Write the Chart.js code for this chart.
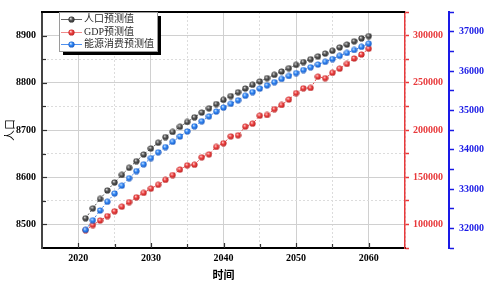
<!DOCTYPE html>
<html>
<head>
<meta charset="utf-8">
<script src="https://cdn.jsdelivr.net/npm/chart.js@4/dist/chart.umd.min.js"></script>
<style>
html, body { margin: 0; padding: 0; background: #fff; }
#wrap { width: 488px; height: 283px; }
</style>
</head>
<body>
<div id="wrap"><canvas id="forecastChart" width="488" height="283"></canvas></div>
<script>
var years = [2021, 2022, 2023, 2024, 2025, 2026, 2027, 2028, 2029, 2030,
    2031, 2032, 2033, 2034, 2035, 2036, 2037, 2038, 2039, 2040,
    2041, 2042, 2043, 2044, 2045, 2046, 2047, 2048, 2049, 2050,
    2051, 2052, 2053, 2054, 2055, 2056, 2057, 2058, 2059, 2060];

// 人口 (left axis)
var population = [8513, 8534, 8554, 8572, 8589, 8605, 8620, 8634, 8648, 8661,
    8673, 8685, 8696, 8707, 8717, 8727, 8737, 8746, 8755, 8764,
    8772, 8780, 8788, 8796, 8803, 8810, 8817, 8824, 8831, 8838,
    8844, 8850, 8856, 8862, 8868, 8875, 8881, 8888, 8894, 8899];

// GDP (red axis)
var gdp = [94000, 99300, 104100, 108800, 113900, 118800, 123600, 128700, 133400, 137900,
    142000, 147200, 152300, 158100, 162600, 163200, 171100, 174200, 182100, 186000,
    193300, 194400, 203600, 206700, 215200, 215900, 222100, 226500, 232300, 239100,
    244200, 244600, 256500, 254900, 260600, 265000, 270000, 275800, 280000, 286200];

// 能源消费 (blue axis)
var energy = [31961, 32207, 32454, 32676, 32888, 33085, 33275, 33455, 33628, 33786,
    33934, 34065, 34200, 34335, 34465, 34595, 34723, 34847, 34970, 35069,
    35167, 35256, 35372, 35463, 35552, 35636, 35717, 35799, 35873, 35947,
    36025, 36095, 36165, 36235, 36305, 36385, 36460, 36535, 36615, 36697];

var seriesLabels = ['人口预测值', 'GDP预测值', '能源消费预测值'];

var serif = '"Liberation Serif", "Times New Roman", "Noto Sans CJK SC", serif';
var redAxis = '#e8393b';
var blueAxis = '#1a1ae6';

function makeBall(light, mid, dark) {
    var c = document.createElement('canvas');
    c.width = 7; c.height = 7;
    var g = c.getContext('2d');
    var grad = g.createRadialGradient(2.6, 2.4, 0.2, 3.5, 3.5, 3.4);
    grad.addColorStop(0, light);
    grad.addColorStop(0.45, mid);
    grad.addColorStop(1, dark);
    g.fillStyle = grad;
    g.beginPath();
    g.arc(3.5, 3.5, 3.1, 0, Math.PI * 2);
    g.fill();
    return c;
}

var balls = [
    makeBall('#d8d8d8', '#555555', '#222222'),
    makeBall('#ffd0d0', '#ec4040', '#b01c1c'),
    makeBall('#cce4ff', '#3086f4', '#124eb6')
];

function toPoints(values) {
    let pts = [];
    values.forEach(function (v, i) {
        pts.push({ x: years[i], y: v });
    });
    return pts;
}

function isMinor(ctx, step) {
    return ctx.tick && ctx.tick.value % step !== 0;
}

var framePlugin = {
    id: 'frame',
    afterDraw: function (chart) {
        var ctx = chart.ctx, area = chart.chartArea;
        var xs = chart.scales.x, ys = chart.scales.y;
        ctx.save();
        ctx.strokeStyle = '#000';
        ctx.lineWidth = 2;
        ctx.beginPath();
        ctx.moveTo(area.left - 1, area.top);
        ctx.lineTo(area.right, area.top);
        ctx.stroke();

        // inward ticks on left and bottom axes
        ctx.lineWidth = 1.2;
        ctx.strokeStyle = '#333';
        xs.ticks.forEach(function (t) {
            var px = Math.round(xs.getPixelForValue(t.value)) + 0.5;
            if (px <= area.left + 2 || px >= area.right - 2) return;
            var len = t.value % 10 === 0 ? 5 : 4;
            ctx.beginPath();
            ctx.moveTo(px, area.bottom);
            ctx.lineTo(px, area.bottom - len);
            ctx.stroke();
        });
        ys.ticks.forEach(function (t) {
            var py = Math.round(ys.getPixelForValue(t.value)) + 0.5;
            if (py <= area.top + 2 || py >= area.bottom - 2) return;
            var len = t.value % 100 === 0 ? 5 : 4;
            ctx.beginPath();
            ctx.moveTo(area.left, py);
            ctx.lineTo(area.left + len, py);
            ctx.stroke();
        });

        // legend box with drop shadow
        var bx = 59, by = 12, bw = 98, bh = 39;
        ctx.fillStyle = '#000';
        ctx.fillRect(bx + 4, by + 4, bw, bh);
        ctx.fillStyle = '#fff';
        ctx.fillRect(bx, by, bw, bh);
        ctx.strokeStyle = '#9a9a9a';
        ctx.lineWidth = 1;
        ctx.strokeRect(bx + 0.5, by + 0.5, bw, bh);

        var lineColors = ['#666666', '#f08a8a', '#4f90ee'];
        chart.data.datasets.forEach(function (ds, i) {
            var cy = by + 7 + i * 12.6;
            ctx.strokeStyle = lineColors[i];
            ctx.lineWidth = 1;
            ctx.beginPath();
            ctx.moveTo(bx + 2, Math.round(cy) + 0.5);
            ctx.lineTo(bx + 23, Math.round(cy) + 0.5);
            ctx.stroke();
            ctx.drawImage(balls[i], bx + 9, Math.round(cy) - 3);
            ctx.fillStyle = '#2a2a2a';
            ctx.font = '10px ' + serif;
            ctx.textBaseline = 'middle';
            ctx.textAlign = 'left';
            ctx.fillText(ds.label, bx + 25, cy + 0.5);
        });
        ctx.restore();
    }
};

var chartElement = document.getElementById('forecastChart').getContext('2d');
var chartObject = new Chart(chartElement, {
    type: 'line',
    data: {
        datasets: [{
            label: seriesLabels[0],
            data: toPoints(population),
            yAxisID: 'y',
            order: 0,
            borderColor: '#5a5a5a',
            borderWidth: 1,
            borderDash: [2, 2],
            pointStyle: balls[0]
        }, {
            label: seriesLabels[1],
            data: toPoints(gdp),
            yAxisID: 'y1',
            order: 2,
            borderColor: '#e84a4a',
            borderWidth: 1,
            borderDash: [2, 2],
            pointStyle: balls[1]
        }, {
            label: seriesLabels[2],
            data: toPoints(energy),
            yAxisID: 'y2',
            order: 1,
            borderColor: '#3a84ee',
            borderWidth: 1,
            borderDash: [2, 2],
            pointStyle: balls[2]
        }]
    },
    options: {
        responsive: false,
        animation: false,
        devicePixelRatio: 1,
        layout: { padding: { top: 4, left: 0, right: 0, bottom: 0 } },
        plugins: {
            legend: { display: false },
            tooltip: { enabled: false }
        },
        scales: {
            x: {
                type: 'linear',
                min: 2015,
                max: 2065,
                afterFit: function (scale) { scale.height = 35; },
                ticks: {
                    stepSize: 5,
                    autoSkip: false,
                    maxRotation: 0,
                    padding: 4,
                    color: '#000',
                    font: { family: serif, size: 10, weight: 'bold' },
                    callback: function (v) { return v % 10 === 0 ? String(v) : ''; }
                },
                grid: {
                    drawTicks: false,
                    color: function (ctx) { return isMinor(ctx, 10) ? '#dcdcdc' : '#d0d0d0'; }
                },
                border: {
                    color: '#000',
                    width: 2,
                    dash: function (ctx) { return isMinor(ctx, 10) ? [2, 2] : []; }
                },
                title: {
                    display: true,
                    text: '时间',
                    color: '#000',
                    padding: { top: 0, bottom: 0 },
                    font: { family: serif, size: 11, weight: 'bold' }
                }
            },
            y: {
                position: 'left',
                min: 8450,
                max: 8950,
                afterFit: function (scale) { scale.width = 42; },
                ticks: {
                    stepSize: 50,
                    autoSkip: false,
                    padding: 6,
                    color: '#000',
                    font: { family: serif, size: 10, weight: 'bold' },
                    callback: function (v) { return v % 100 === 0 ? String(v) : ''; }
                },
                grid: {
                    drawTicks: false,
                    color: function (ctx) { return isMinor(ctx, 100) ? '#dcdcdc' : '#d0d0d0'; }
                },
                border: {
                    color: '#444',
                    width: 2,
                    dash: function (ctx) { return isMinor(ctx, 100) ? [2, 2] : []; }
                },
                title: {
                    display: true,
                    text: '人口',
                    color: '#000',
                    padding: { top: 5, bottom: 0 },
                    font: { family: serif, size: 11 }
                }
            },
            y1: {
                position: 'right',
                weight: 0,
                min: 75000,
                max: 325000,
                afterFit: function (scale) { scale.width = 44; },
                ticks: {
                    stepSize: 25000,
                    autoSkip: false,
                    padding: 4,
                    color: redAxis,
                    font: { family: serif, size: 10, weight: 'bold' },
                    callback: function (v) { return v % 50000 === 0 ? String(v) : ''; }
                },
                grid: {
                    drawOnChartArea: false,
                    tickLength: 4,
                    tickColor: redAxis,
                    tickWidth: 1.5
                },
                border: { color: redAxis, width: 1.5 }
            },
            y2: {
                position: 'right',
                weight: 1,
                min: 31500,
                max: 37500,
                afterFit: function (scale) { scale.width = 39; },
                ticks: {
                    stepSize: 500,
                    autoSkip: false,
                    padding: 5,
                    color: blueAxis,
                    font: { family: serif, size: 10, weight: 'bold' },
                    callback: function (v) { return v % 1000 === 0 ? String(v) : ''; }
                },
                grid: {
                    drawOnChartArea: false,
                    tickLength: 5,
                    tickColor: blueAxis,
                    tickWidth: 1.5
                },
                border: { color: blueAxis, width: 2 }
            }
        }
    },
    plugins: [framePlugin]
});
</script>
</body>
</html>
